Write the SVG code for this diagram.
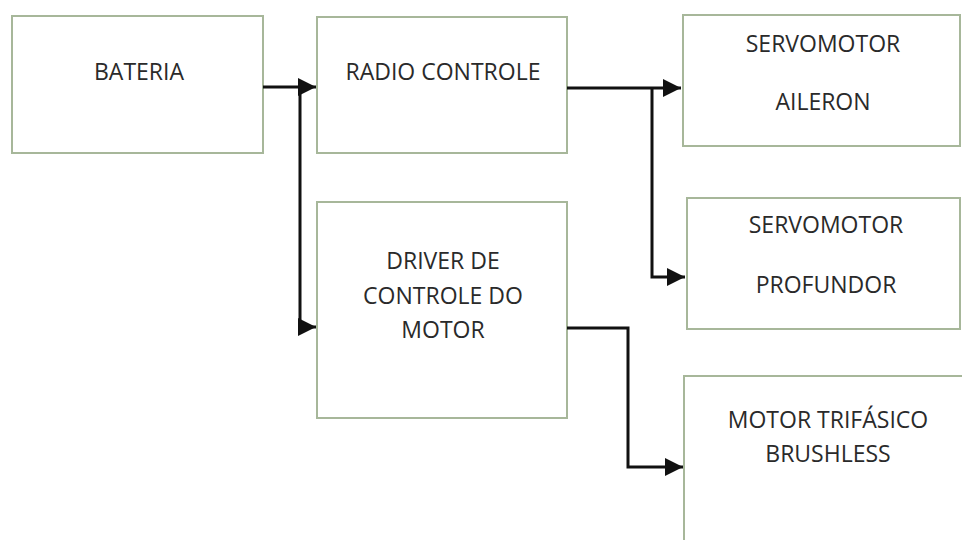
<svg xmlns="http://www.w3.org/2000/svg" width="962" height="540" viewBox="0 0 962 540">
<style>
.box{fill:#ffffff;stroke:#a7b79a;stroke-width:2}
.t{font-family:"Open Sans","Liberation Sans",sans-serif;font-size:23px;fill:#2a2a2a;text-anchor:middle}
.c{fill:none;stroke:#111111;stroke-width:3}
</style>
<defs>
<marker id="ah" viewBox="0 0 10 10" refX="10" refY="5" markerWidth="6" markerHeight="6" markerUnits="strokeWidth" orient="auto">
<path d="M0,0 L10,5 L0,10 z" fill="#111111"/>
</marker>
</defs>
<rect width="962" height="540" fill="#ffffff"/>
<g id="bateria"><rect class="box" x="12" y="16" width="251" height="137"/><text class="t" x="139" y="80">BATERIA</text></g>
<g id="radio"><rect class="box" x="317" y="17" width="250" height="136"/><text class="t" x="443" y="80">RADIO CONTROLE</text></g>
<g id="driver"><rect class="box" x="317" y="202" width="250" height="216"/><text class="t" x="443" y="269">DRIVER  DE</text><text class="t" x="443" y="304">CONTROLE DO</text><text class="t" x="443" y="338">MOTOR</text></g>
<g id="aileron"><rect class="box" x="683" y="15" width="277" height="131"/><text class="t" x="823" y="52">SERVOMOTOR</text><text class="t" x="823" y="110">AILERON</text></g>
<g id="profundor"><rect class="box" x="687" y="198" width="273" height="131"/><text class="t" x="826" y="233">SERVOMOTOR</text><text class="t" x="826" y="293">PROFUNDOR</text></g>
<g id="motor"><rect class="box" x="684" y="376" width="290" height="180"/><text class="t" x="828" y="428">MOTOR TRIFÁSICO</text><text class="t" x="828" y="462">BRUSHLESS</text></g>
<g id="connectors">
<path class="c" d="M263,87 L316,87" marker-end="url(#ah)"/>
<path class="c" d="M300,87 L300,327 L316,327" marker-end="url(#ah)"/>
<path class="c" d="M567,88 L681,88" marker-end="url(#ah)"/>
<path class="c" d="M652,88 L652,277 L685,277" marker-end="url(#ah)"/>
<path class="c" d="M567,328 L628,328 L628,467 L683,467" marker-end="url(#ah)"/>
</g>
</svg>
